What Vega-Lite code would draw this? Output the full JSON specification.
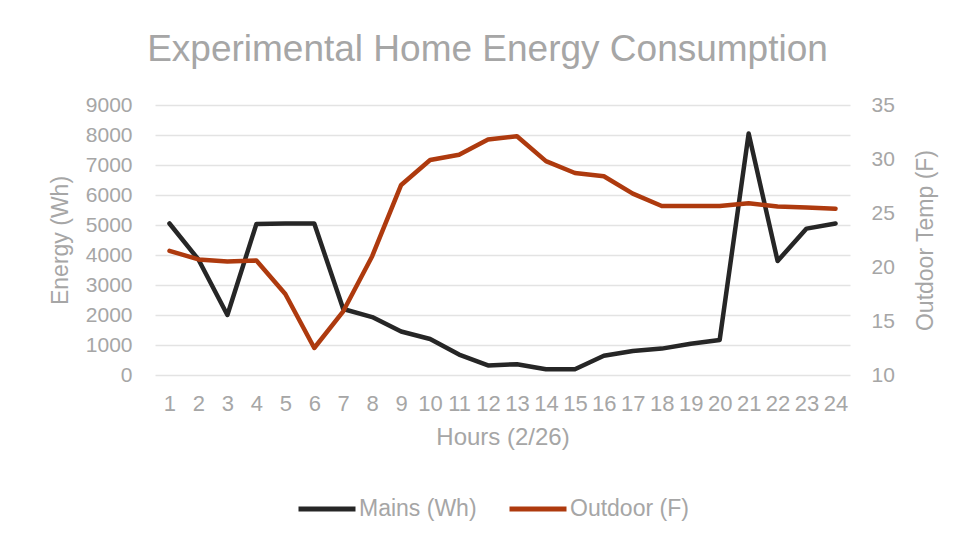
{
  "$schema": "https://vega.github.io/schema/vega-lite/v6.json",
  "width": 695,
  "height": 270,
  "autosize": {"type": "none"},
  "padding": {"left": 155, "top": 105, "right": 109, "bottom": 167},
  "background": "white",
  "config": {
    "view": {"stroke": null},
    "font": "Liberation Sans"
  },
  "title": {
    "text": "Experimental Home Energy Consumption",
    "fontSize": 37,
    "fontWeight": "normal",
    "color": "#a6a6a6",
    "font": "Liberation Sans",
    "anchor": "middle",
    "baseline": "alphabetic",
    "offset": -4,
    "dx": -15
  },
  "data": {
    "values": [
      {"hour": 1, "mains": 5050, "outdoor": 21.5},
      {"hour": 2, "mains": 3850, "outdoor": 20.7},
      {"hour": 3, "mains": 2000, "outdoor": 20.5},
      {"hour": 4, "mains": 5030, "outdoor": 20.6},
      {"hour": 5, "mains": 5050, "outdoor": 17.5},
      {"hour": 6, "mains": 5050, "outdoor": 12.5},
      {"hour": 7, "mains": 2200, "outdoor": 15.9},
      {"hour": 8, "mains": 1930, "outdoor": 21.0},
      {"hour": 9, "mains": 1450, "outdoor": 27.6},
      {"hour": 10, "mains": 1200, "outdoor": 29.9},
      {"hour": 11, "mains": 680, "outdoor": 30.4},
      {"hour": 12, "mains": 320, "outdoor": 31.8},
      {"hour": 13, "mains": 360, "outdoor": 32.1},
      {"hour": 14, "mains": 190, "outdoor": 29.8},
      {"hour": 15, "mains": 190, "outdoor": 28.7},
      {"hour": 16, "mains": 640, "outdoor": 28.4},
      {"hour": 17, "mains": 800, "outdoor": 26.8},
      {"hour": 18, "mains": 880, "outdoor": 25.65},
      {"hour": 19, "mains": 1040, "outdoor": 25.65},
      {"hour": 20, "mains": 1170, "outdoor": 25.65},
      {"hour": 21, "mains": 8050, "outdoor": 25.9},
      {"hour": 22, "mains": 3800, "outdoor": 25.6},
      {"hour": 23, "mains": 4880, "outdoor": 25.5},
      {"hour": 24, "mains": 5050, "outdoor": 25.4}
    ]
  },
  "encoding": {
    "x": {
      "field": "hour",
      "type": "ordinal",
      "scale": {"padding": 0.5},
      "axis": {
        "title": "Hours (2/26)",
        "titleFontSize": 24,
        "titleFontWeight": "normal",
        "titleColor": "#a6a6a6",
        "titleY": 62,
        "titleBaseline": "middle",
        "labelFontSize": 22,
        "labelColor": "#a6a6a6",
        "labelAngle": 0,
        "labelPadding": 28,
        "labelBaseline": "middle",
        "labelOverlap": false,
        "domain": false,
        "ticks": false,
        "grid": false
      }
    }
  },
  "layer": [
    {
      "mark": {"type": "line", "strokeWidth": 4.5, "strokeJoin": "round", "strokeCap": "round"},
      "encoding": {
        "y": {
          "field": "mains",
          "type": "quantitative",
          "scale": {"domain": [0, 9000], "nice": false},
          "axis": {
            "title": "Energy (Wh)",
            "titleFontSize": 23,
            "titleFontWeight": "normal",
            "titleColor": "#a6a6a6",
            "titleAngle": 270,
            "titleX": -95,
            "titleY": 135,
            "titleAlign": "center",
            "titleBaseline": "middle",
            "values": [0, 1000, 2000, 3000, 4000, 5000, 6000, 7000, 8000, 9000],
            "format": "d",
            "labelFontSize": 21,
            "labelColor": "#a6a6a6",
            "labelPadding": 23,
            "domain": false,
            "ticks": false,
            "gridColor": "#e3e3e3",
            "gridWidth": 1.5
          }
        },
        "color": {
          "datum": "Mains (Wh)",
          "scale": {"domain": ["Mains (Wh)", "Outdoor (F)"], "range": ["#262626", "#ae3a0e"]},
          "legend": {
            "title": null,
            "orient": "none",
            "direction": "horizontal",
            "legendX": 141,
            "legendY": 373,
            "symbolType": "stroke",
            "symbolSize": 3249,
            "symbolStrokeWidth": 5,
            "labelFont": "Liberation Sans",
            "labelFontSize": 23,
            "labelColor": "#a6a6a6",
            "labelOffset": 1,
            "columnPadding": 22
          }
        }
      }
    },
    {
      "mark": {"type": "line", "strokeWidth": 4.5, "strokeJoin": "round", "strokeCap": "round"},
      "encoding": {
        "y": {
          "field": "outdoor",
          "type": "quantitative",
          "scale": {"domain": [10, 35], "nice": false},
          "axis": {
            "orient": "right",
            "title": "Outdoor Temp (F)",
            "titleFontSize": 23,
            "titleFontWeight": "normal",
            "titleColor": "#a6a6a6",
            "titleAngle": 270,
            "titleX": 75,
            "titleY": 135,
            "titleAlign": "center",
            "titleBaseline": "middle",
            "values": [10, 15, 20, 25, 30, 35],
            "labelFontSize": 21,
            "labelColor": "#a6a6a6",
            "labelPadding": 21,
            "domain": false,
            "ticks": false,
            "grid": false
          }
        },
        "color": {"datum": "Outdoor (F)"}
      }
    }
  ],
  "resolve": {"scale": {"y": "independent"}}
}
